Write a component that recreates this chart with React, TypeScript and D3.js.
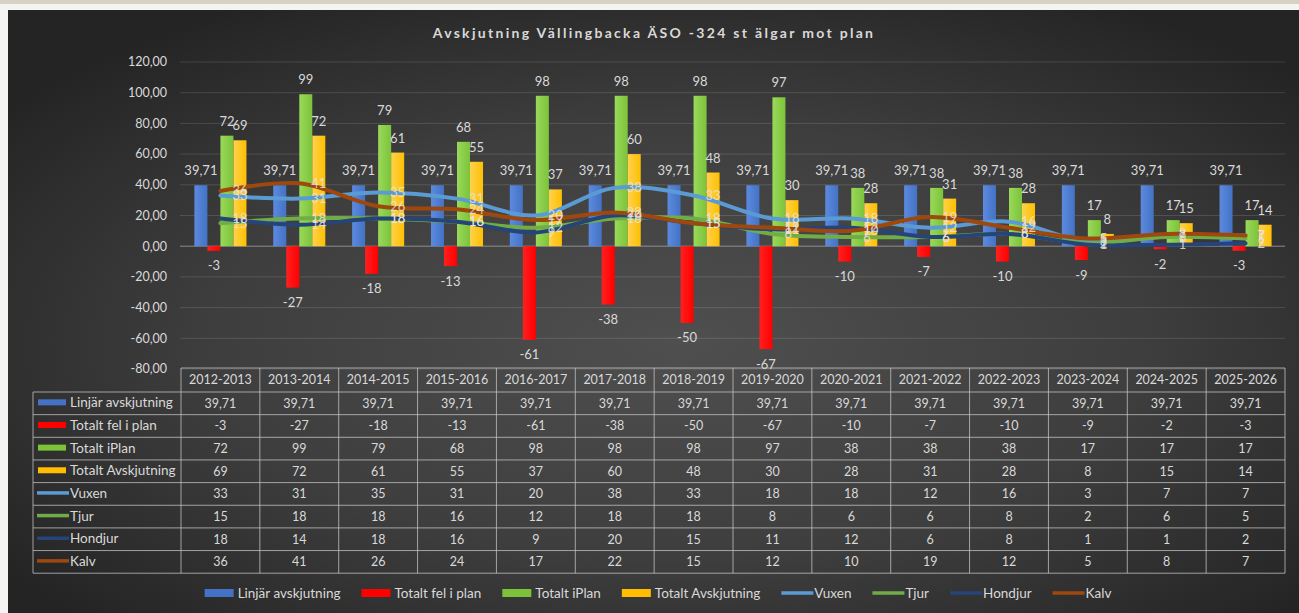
import React, { useEffect, useRef } from 'react';
import * as d3 from 'd3';

const categories = [
  '2012-2013', '2013-2014', '2014-2015', '2015-2016', '2016-2017', '2017-2018', '2018-2019',
  '2019-2020', '2020-2021', '2021-2022', '2022-2023', '2023-2024', '2024-2025', '2025-2026',
];
const linjar = [39.71, 39.71, 39.71, 39.71, 39.71, 39.71, 39.71, 39.71, 39.71, 39.71, 39.71, 39.71, 39.71, 39.71];
const felIPlan = [-3, -27, -18, -13, -61, -38, -50, -67, -10, -7, -10, -9, -2, -3];
const iPlan = [72, 99, 79, 68, 98, 98, 98, 97, 38, 38, 38, 17, 17, 17];
const avskjutning = [69, 72, 61, 55, 37, 60, 48, 30, 28, 31, 28, 8, 15, 14];
const vuxen = [33, 31, 35, 31, 20, 38, 33, 18, 18, 12, 16, 3, 7, 7];
const tjur = [15, 18, 18, 16, 12, 18, 18, 8, 6, 6, 8, 2, 6, 5];
const hondjur = [18, 14, 18, 16, 9, 20, 15, 11, 12, 6, 8, 1, 1, 2];
const kalv = [36, 41, 26, 24, 17, 22, 15, 12, 10, 19, 12, 5, 8, 7];

const yDomain = [-80, 120];
const TITLE = 'Avskjutning Vällingbacka ÄSO -324 st älgar mot plan';

type Series = { name: string; values: number[]; color: string; light: string; kind: 'bar' | 'line' };

const series: Series[] = [
  { name: 'Linjär avskjutning', values: linjar, color: '#4472c4', light: '#5b8ae0', kind: 'bar' },
  { name: 'Totalt fel i plan', values: felIPlan, color: '#ff0000', light: '#ff2020', kind: 'bar' },
  { name: 'Totalt iPlan', values: iPlan, color: '#7cc33a', light: '#9ad95a', kind: 'bar' },
  { name: 'Totalt Avskjutning', values: avskjutning, color: '#ffbf00', light: '#ffd24d', kind: 'bar' },
  { name: 'Vuxen', values: vuxen, color: '#5b9bd5', light: '#5b9bd5', kind: 'line' },
  { name: 'Tjur', values: tjur, color: '#70ad47', light: '#70ad47', kind: 'line' },
  { name: 'Hondjur', values: hondjur, color: '#264478', light: '#264478', kind: 'line' },
  { name: 'Kalv', values: kalv, color: '#9e480e', light: '#9e480e', kind: 'line' },
];

const FONT = 'Lato, "Open Sans", sans-serif';
const TXT = '#d9d9d9';
const fmt = (v: number) => (Number.isInteger(v) ? String(v) : v.toFixed(2).replace('.', ','));

export default function App() {
  const svgRef = useRef<SVGSVGElement>(null);

  useEffect(() => {
    document.body.style.margin = '0';
    if (!svgRef.current) return;
    const W = 1299, H = 613;
    const svg = d3.select(svgRef.current);
    svg.selectAll('*').remove();

    const mg = { left: 181, right: 1285, top: 62, bottom: 369 };
    const defs = svg.append('defs');

    // background
    const rg = defs.append('radialGradient').attr('id', 'bg').attr('cx', '52%').attr('cy', '55%').attr('r', '65%');
    rg.append('stop').attr('offset', '0%').attr('stop-color', '#4f4f4f');
    rg.append('stop').attr('offset', '55%').attr('stop-color', '#3e3e3e');
    rg.append('stop').attr('offset', '100%').attr('stop-color', '#242424');
    series.filter(s => s.kind === 'bar').forEach((s, i) => {
      const lg = defs.append('linearGradient').attr('id', `bar${i}`).attr('x1', '0').attr('x2', '1').attr('y1', '0').attr('y2', '0');
      lg.append('stop').attr('offset', '0%').attr('stop-color', s.light);
      lg.append('stop').attr('offset', '100%').attr('stop-color', s.color);
    });

    svg.append('rect').attr('width', W).attr('height', H).attr('fill', '#f4f4f2');
    svg.append('rect').attr('width', W).attr('height', 4).attr('fill', '#d5d2c4');
    svg.append('rect').attr('x', 8).attr('y', 10).attr('width', W - 8).attr('height', H - 10).attr('fill', 'url(#bg)');

    // title
    svg.append('text')
      .attr('x', 654).attr('y', 38)
      .attr('text-anchor', 'middle')
      .attr('fill', TXT).attr('font-family', FONT).attr('font-weight', 700)
      .attr('font-size', '14px').attr('letter-spacing', '2.3px')
      .text(TITLE);

    const x = d3.scaleBand<string>().domain(categories).range([mg.left, mg.right]);
    const barSeries = series.filter(s => s.kind === 'bar');
    const lineSeries = series.filter(s => s.kind === 'line');
    const xSub = d3.scaleBand<string>().domain(barSeries.map(s => s.name))
      .range([0, x.bandwidth()]).paddingOuter(1.03);
    const y = d3.scaleLinear().domain(yDomain).range([mg.bottom, mg.top]);

    // grid + y axis
    const ticks = y.ticks(10);
    svg.append('g').selectAll('line').data(ticks).enter().append('line')
      .attr('x1', mg.left - 1).attr('x2', mg.right)
      .attr('y1', d => y(d)).attr('y2', d => y(d))
      .attr('stroke', d => (d === 0 ? '#a0a0a0' : '#ffffff'))
      .attr('stroke-opacity', d => (d === 0 ? 0.8 : 0.13))
      .attr('stroke-width', 1);
    svg.append('g').selectAll('text').data(ticks).enter().append('text')
      .attr('x', 167).attr('y', d => y(d))
      .attr('dy', '0.35em').attr('text-anchor', 'end')
      .attr('fill', TXT).attr('font-family', FONT).attr('font-size', '12.5px')
      .text(d => d.toFixed(2).replace('.', ','));

    // bars
    barSeries.forEach((s, si) => {
      svg.append('g').selectAll('rect').data(s.values).enter().append('rect')
        .attr('x', (_, i) => x(categories[i])! + xSub(s.name)!)
        .attr('width', xSub.bandwidth())
        .attr('y', d => y(Math.max(0, d)))
        .attr('height', d => Math.abs(y(d) - y(0)))
        .attr('fill', `url(#bar${si})`);
    });

    // lines
    const line = d3.line<number>()
      .x((_, i) => x(categories[i])! + x.bandwidth() / 2)
      .y(d => y(d))
      .curve(d3.curveCatmullRom.alpha(0.5));
    lineSeries.forEach(s => {
      svg.append('path').datum(s.values)
        .attr('d', line)
        .attr('fill', 'none')
        .attr('stroke', s.color)
        .attr('stroke-width', 4)
        .attr('stroke-linecap', 'round')
        .attr('stroke-linejoin', 'round');
    });

    // bar labels
    barSeries.forEach(s => {
      svg.append('g').selectAll('text').data(s.values).enter().append('text')
        .attr('x', (_, i) => x(categories[i])! + xSub(s.name)! + xSub.bandwidth() / 2)
        .attr('y', d => (d >= 0 ? y(d) - 10 : y(d) + 19.5))
        .attr('text-anchor', 'middle')
        .attr('fill', TXT).attr('font-family', FONT).attr('font-size', '13px')
        .text(d => fmt(d));
    });

    // line labels
    lineSeries.forEach(s => {
      svg.append('g').selectAll('text').data(s.values).enter().append('text')
        .attr('x', (_, i) => x(categories[i])! + x.bandwidth() / 2 + 12)
        .attr('y', d => y(d))
        .attr('dy', '0.35em')
        .attr('fill', '#e4e4e4').attr('fill-opacity', 0.85)
        .attr('font-family', FONT).attr('font-size', '13px')
        .text(d => fmt(d));
    });

    // data table
    const headTop = mg.bottom - 1;
    const rowTop = 392;
    const rowH = 22.65;
    const labelLeft = 33;
    const tableBottom = rowTop + rowH * series.length;
    const tbl = svg.append('g');
    const gridCol = '#c8c8c8';
    tbl.append('line').attr('x1', mg.left).attr('x2', mg.right).attr('y1', headTop).attr('y2', headTop)
      .attr('stroke', gridCol).attr('stroke-opacity', 0.75);
    d3.range(series.length + 1).forEach(r => {
      const yy = rowTop + r * rowH;
      tbl.append('line').attr('x1', labelLeft).attr('x2', mg.right).attr('y1', yy).attr('y2', yy)
        .attr('stroke', gridCol).attr('stroke-opacity', 0.75);
    });
    tbl.append('line').attr('x1', labelLeft).attr('x2', labelLeft).attr('y1', rowTop).attr('y2', tableBottom)
      .attr('stroke', gridCol).attr('stroke-opacity', 0.75);
    d3.range(categories.length + 1).forEach(c => {
      const xx = mg.left + c * x.step();
      tbl.append('line').attr('x1', xx).attr('x2', xx).attr('y1', headTop).attr('y2', tableBottom)
        .attr('stroke', gridCol).attr('stroke-opacity', 0.75);
    });
    tbl.selectAll('text.head').data(categories).enter().append('text')
      .attr('x', d => x(d)! + x.bandwidth() / 2)
      .attr('y', (headTop + rowTop) / 2).attr('dy', '0.35em')
      .attr('text-anchor', 'middle')
      .attr('fill', TXT).attr('font-family', FONT).attr('font-size', '12.5px')
      .text(d => d);
    series.forEach((s, r) => {
      const cy = rowTop + r * rowH + rowH / 2;
      if (s.kind === 'bar') {
        tbl.append('rect').attr('x', 38).attr('y', cy - 4).attr('width', 28).attr('height', 6).attr('fill', s.color);
      } else {
        tbl.append('line').attr('x1', 37).attr('x2', 69).attr('y1', cy - 1).attr('y2', cy - 1)
          .attr('stroke', s.color).attr('stroke-width', 3.5);
      }
      tbl.append('text')
        .attr('x', 70).attr('y', cy).attr('dy', '0.3em')
        .attr('fill', TXT).attr('font-family', FONT).attr('font-size', '13.5px')
        .text(s.name);
      tbl.append('g').selectAll('text').data(s.values).enter().append('text')
        .attr('x', (_, i) => x(categories[i])! + x.bandwidth() / 2)
        .attr('y', cy).attr('dy', '0.35em')
        .attr('text-anchor', 'middle')
        .attr('fill', TXT).attr('font-family', FONT).attr('font-size', '12.5px')
        .text(d => fmt(d));
    });

    // legend
    const lgY = 593;
    const legend = svg.append('g');
    let cursor = 0;
    series.forEach(s => {
      const item = legend.append('g').attr('transform', `translate(${cursor},0)`);
      if (s.kind === 'bar') {
        item.append('rect').attr('x', 0).attr('y', lgY - 4).attr('width', 29).attr('height', 8).attr('fill', s.color);
      } else {
        item.append('line').attr('x1', 0).attr('x2', 32).attr('y1', lgY).attr('y2', lgY)
          .attr('stroke', s.color).attr('stroke-width', 3.5);
      }
      const t = item.append('text')
        .attr('x', 33).attr('y', lgY).attr('dy', '0.35em')
        .attr('fill', TXT).attr('font-family', FONT).attr('font-size', '13.5px')
        .text(s.name);
      const tw = (t.node() as SVGTextElement).getComputedTextLength();
      cursor += 33 + tw + 21;
    });
    const total = cursor - 21;
    legend.attr('transform', `translate(${658 - total / 2},0)`);
  }, []);

  return <svg ref={svgRef} width={1299} height={613} style={{ display: 'block' }} />;
}
